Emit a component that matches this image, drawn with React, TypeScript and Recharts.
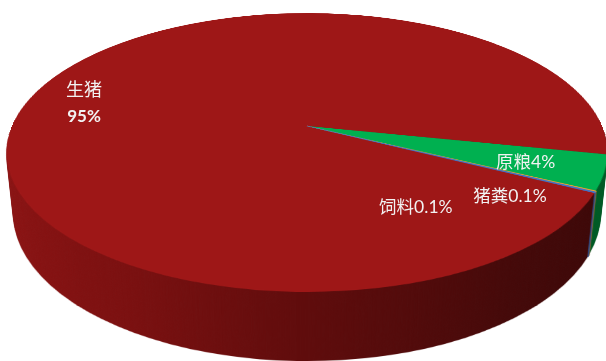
import React from 'react';
import { PieChart, Pie, Cell } from 'recharts';

const categories = ['生猪', '原粮', '猪粪', '饲料'];
const shares = [95, 4, 0.1, 0.1];
const topColors = ['#9E1717', '#00B050', '#F0A030', '#4472C4'];
const sideColors = ['url(#sideRed)', '#005A25', '#A86A1E', '#2E4E8C'];

const data = categories.map((name, i) => ({ name, value: shares[i] }));

// tilted disc geometry (css perspective gives the 3D look)
const W = 606;
const H = 361;
const R = 295;
const CX = 307;
const CY = 126;
const TILT = 62.9;
const PERSP = 1382;
const DEPTH = 69;
const START = -27;

// label placement relative to slice middle
const labelShift = [6.1, -0.8, -10.6, -31.7];
const labelRadius = [0.804, 0.75, 0.785, 0.634];

const FONT = "Lato, 'Noto Sans CJK SC', sans-serif";

const Layer = ({ z, colors }: { z: number; colors: string[] }) => (
  <div
    style={{
      position: 'absolute',
      left: CX - R,
      top: CY - R,
      width: 2 * R,
      height: 2 * R,
      transformOrigin: '50% 50%',
      transform: `perspective(${PERSP}px) rotateX(${TILT}deg) translateZ(${-z}px)`,
    }}
  >
    <PieChart width={2 * R} height={2 * R} margin={{ top: 0, right: 0, bottom: 0, left: 0 }}>
      <Pie
        data={data}
        dataKey="value"
        cx={R}
        cy={R}
        innerRadius={0}
        outerRadius={R}
        startAngle={START}
        endAngle={START - 360}
        stroke="none"
        isAnimationActive={false}
      >
        {data.map((d, i) => (
          <Cell
            key={d.name}
            fill={colors[i]}
            stroke={i >= 2 ? colors[i] : 'none'}
            strokeWidth={i >= 2 ? 1.3 : 0}
          />
        ))}
      </Pie>
    </PieChart>
  </div>
);

const renderLabel = (p: any) => {
  const i = p.index;
  const a = ((p.midAngle + labelShift[i]) * Math.PI) / 180;
  const r = R * labelRadius[i];
  const u = r * Math.cos(a);
  const v = -r * Math.sin(a);
  const t = (TILT * Math.PI) / 180;
  const f = PERSP / (PERSP - v * Math.sin(t));
  const x = CX + u * f;
  const y = CY + v * Math.cos(t) * f;
  const d = data[i];
  if (i === 0) {
    return (
      <text x={x} y={y} textAnchor="middle" fill="#F2F2F2" fontFamily={FONT}>
        <tspan x={x} y={y - 13} fontSize={18} dominantBaseline="central">{d.name}</tspan>
        <tspan x={x} y={y + 13} fontSize={17} fontWeight="bold" dominantBaseline="central">{`${d.value}%`}</tspan>
      </text>
    );
  }
  return (
    <text x={x} y={y} textAnchor="middle" dominantBaseline="central" fill="#F2F2F2" fontSize={17.5} fontFamily={FONT}>
      {`${d.name}${d.value}%`}
    </text>
  );
};

export default function App() {
  const depths = [];
  for (let z = DEPTH; z >= 1; z--) depths.push(z);

  return (
    <div style={{ position: 'absolute', left: 0, top: 0, width: W, height: H, overflow: 'hidden', background: '#fff' }}>
      <svg width={0} height={0} style={{ position: 'absolute' }}>
        <defs>
          <linearGradient id="sideRed" x1="0" y1="0" x2="1" y2="0">
            <stop offset="0" stopColor="#8C1313" />
            <stop offset="0.25" stopColor="#7A1010" />
            <stop offset="0.5" stopColor="#5F0C0C" />
            <stop offset="0.8" stopColor="#440909" />
            <stop offset="1" stopColor="#3A0707" />
          </linearGradient>
        </defs>
      </svg>
      {depths.map((z) => (
        <Layer key={z} z={z} colors={sideColors} />
      ))}
      <Layer z={0} colors={topColors} />
      <PieChart width={W} height={H} margin={{ top: 0, right: 0, bottom: 0, left: 0 }} style={{ position: 'absolute', left: 0, top: 0 }}>
        <Pie
          data={data}
          dataKey="value"
          cx={CX}
          cy={CY}
          outerRadius={R}
          startAngle={START}
          endAngle={START - 360}
          fill="none"
          stroke="none"
          label={renderLabel}
          labelLine={false}
          isAnimationActive={false}
        />
      </PieChart>
    </div>
  );
}
